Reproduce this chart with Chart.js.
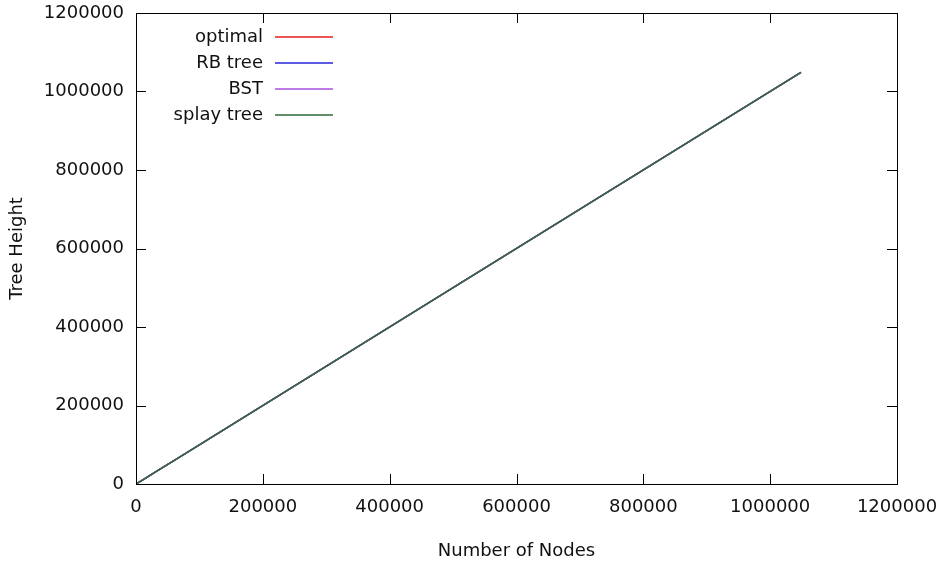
<!DOCTYPE html>
<html>
<head>
<meta charset="utf-8">
<script src="https://cdn.jsdelivr.net/npm/chart.js@4"></script>
<style>
  html, body { margin: 0; padding: 0; background: #fff; }
  #wrap { width: 942px; height: 566px; }
</style>
</head>
<body>
<div id="wrap"><canvas id="c"></canvas></div>
<script>
// tree sizes used in the runs (powers of two up to 2^20)
const nodes = [1, 2, 4, 8, 16, 32, 64, 128, 256, 512, 1024, 2048, 4096, 8192, 16384,
  32768, 65536, 131072, 262144, 524288, 1048576];

// measured heights per tree type
const optimal = [1, 2, 4, 8, 16, 32, 64, 128, 256, 512, 1024, 2048, 4096, 8192, 16384,
  32768, 65536, 131072, 262144, 524288, 1048576];
const rbTree = [1, 2, 4, 8, 16, 32, 64, 128, 256, 512, 1024, 2048, 4096, 8192, 16384,
  32768, 65536, 131072, 262144, 524288, 1048576];
const bst = [1, 2, 4, 8, 16, 32, 64, 128, 256, 512, 1024, 2048, 4096, 8192, 16384,
  32768, 65536, 131072, 262144, 524288, 1048576];
const splayTree = [1, 2, 4, 8, 16, 32, 64, 128, 256, 512, 1024, 2048, 4096, 8192, 16384,
  32768, 65536, 131072, 262144, 524288, 1048576];

const seriesNames = ['optimal', 'RB tree', 'BST', 'splay tree'];
const seriesColors = ['#e01c1c', '#2626dc', '#a64fe0', '#2b6b37'];

const axisMax = 1200000;
const axisStep = 200000;

const FONT = 'DejaVu Sans';
const FONT_SIZE = 18;
const textColor = '#111';

function toPoints(ys) {
  return nodes.map((n, i) => ({ x: n, y: ys[i] }));
}

// gnuplot style frame: full border, ticks pointing inward on all four sides, key at top left
const frameAndKey = {
  id: 'frameAndKey',
  afterDatasetsDraw(chart) {
    const { ctx, chartArea: a, scales } = chart;
    ctx.save();
    ctx.strokeStyle = '#000';
    ctx.lineWidth = 1;
    const tl = 10;
    ctx.beginPath();
    scales.x.ticks.forEach(t => {
      const px = Math.round(scales.x.getPixelForValue(t.value)) + 0.5;
      ctx.moveTo(px, a.bottom); ctx.lineTo(px, a.bottom - tl);
      ctx.moveTo(px, a.top); ctx.lineTo(px, a.top + tl);
    });
    scales.y.ticks.forEach(t => {
      const py = Math.round(scales.y.getPixelForValue(t.value)) + 0.5;
      ctx.moveTo(a.left, py); ctx.lineTo(a.left + tl, py);
      ctx.moveTo(a.right, py); ctx.lineTo(a.right - tl, py);
    });
    ctx.stroke();
    ctx.strokeRect(Math.round(a.left) + 0.5, Math.round(a.top) + 0.5,
      Math.round(a.right - a.left), Math.round(a.bottom - a.top));

    // key
    ctx.font = FONT_SIZE + 'px "' + FONT + '"';
    ctx.textAlign = 'right';
    ctx.textBaseline = 'middle';
    chart.data.datasets.forEach((ds, i) => {
      const y = a.top + 24 + i * 26;
      ctx.fillStyle = textColor;
      ctx.fillText(ds.label, a.left + 127, y);
      ctx.strokeStyle = ds.borderColor;
      ctx.lineWidth = 1.5;
      ctx.beginPath();
      ctx.moveTo(a.left + 139, y);
      ctx.lineTo(a.left + 197, y);
      ctx.stroke();
    });
    ctx.restore();
  }
};

const series = [optimal, rbTree, bst, splayTree];
const plainNumber = v => String(v);

new Chart(document.getElementById('c'), {
  type: 'line',
  data: {
    datasets: series.map((ys, i) => ({
      label: seriesNames[i],
      data: toPoints(ys),
      borderColor: seriesColors[i],
      backgroundColor: seriesColors[i],
      borderWidth: 1.5,
      pointRadius: 0,
      tension: 0,
      order: series.length - 1 - i // last series drawn on top
    }))
  },
  options: {
    responsive: true,
    maintainAspectRatio: false,
    animation: false,
    layout: { padding: { top: 13, right: 45, left: 0, bottom: 0 } },
    plugins: {
      legend: { display: false },
      tooltip: { enabled: false }
    },
    scales: {
      x: {
        type: 'linear',
        min: 0,
        max: axisMax,
        grid: { display: false, drawTicks: false },
        border: { display: false },
        ticks: {
          stepSize: axisStep,
          padding: 13,
          maxRotation: 0,
          color: textColor,
          font: { family: FONT, size: FONT_SIZE },
          callback: plainNumber
        },
        title: {
          display: true,
          text: 'Number of Nodes',
          color: textColor,
          font: { family: FONT, size: FONT_SIZE },
          padding: { top: 0, bottom: 4 }
        },
        afterFit(scale) {
          scale.height = 82;
          scale.paddingLeft = 0;
          scale.paddingRight = 0;
        }
      },
      y: {
        type: 'linear',
        min: 0,
        max: axisMax,
        grid: { display: false, drawTicks: false },
        border: { display: false },
        ticks: {
          stepSize: axisStep,
          padding: 12,
          color: textColor,
          font: { family: FONT, size: FONT_SIZE },
          callback: plainNumber
        },
        title: {
          display: true,
          text: 'Tree Height',
          color: textColor,
          font: { family: FONT, size: FONT_SIZE },
          padding: { top: 7, bottom: 0 }
        },
        afterFit(scale) {
          scale.width = 136;
          scale.paddingTop = 0;
          scale.paddingBottom = 0;
        }
      }
    }
  },
  plugins: [frameAndKey]
});
</script>
</body>
</html>
